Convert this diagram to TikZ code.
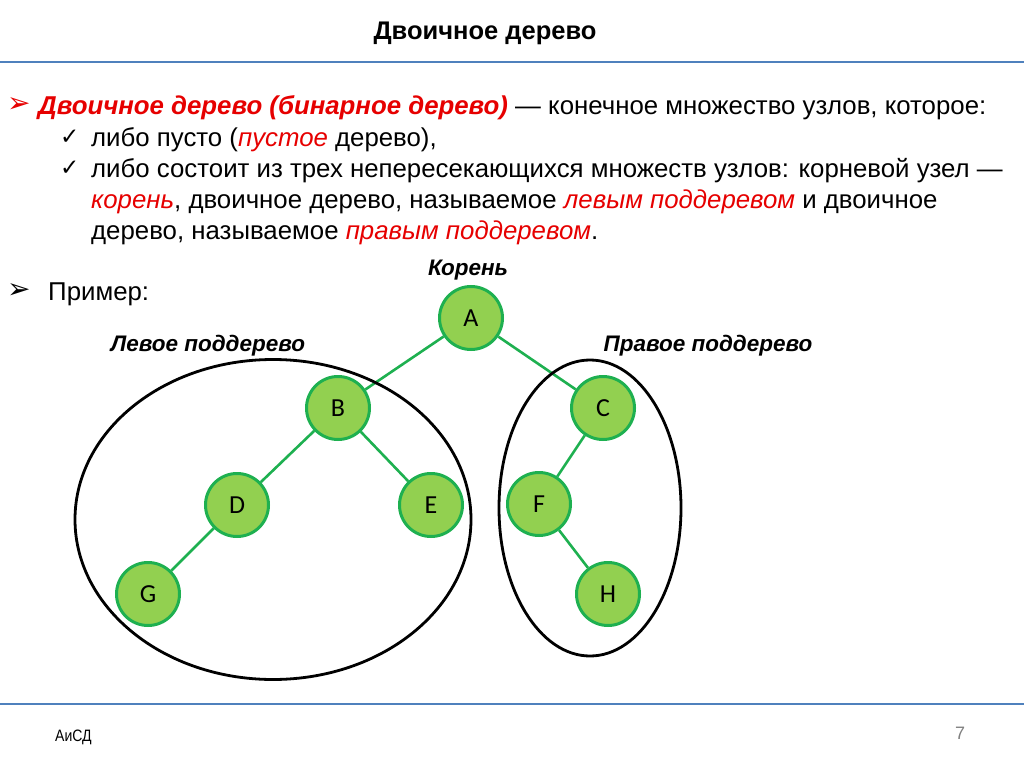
\documentclass[tikz,border=0pt]{standalone}
\usepackage{fontspec}
\setmainfont{Liberation Sans}
\newfontfamily\dejavu{DejaVu Sans}
\newfontfamily\carlito{Carlito}
\definecolor{nodefill}{RGB}{146,208,80}
\definecolor{nodeedge}{RGB}{30,176,80}
\definecolor{rulecol}{RGB}{79,129,189}
\definecolor{redtxt}{RGB}{230,0,0}
\pgfdeclarelayer{edgelayer}
\pgfdeclarelayer{elllayer}
\pgfsetlayers{edgelayer,elllayer,main}
\begin{document}
\begin{tikzpicture}[x=1pt,y=-1pt,
  tnode/.style={circle,draw=nodeedge,fill=nodefill,line width=3pt,minimum size=63pt,inner sep=0pt,font=\carlito\fontsize{26}{26}\selectfont},
  tedge/.style={draw=nodeedge,line width=2.6pt},
  subset/.style={draw=black,line width=2.8pt},
  body/.style={anchor=base west,inner sep=0pt,font=\fontsize{25.8}{27}\selectfont},
  lbl/.style={inner sep=0pt,font=\fontsize{22.5}{23}\selectfont\bfseries\itshape},
  arrowbul/.style={anchor=base west,inner sep=0pt,font=\dejavu\fontsize{28}{28}\selectfont},
  checkbul/.style={anchor=base west,inner sep=0pt,font=\dejavu\bfseries\fontsize{23}{23}\selectfont}]
\useasboundingbox (0,0) rectangle (1024,767);
% rules
\coordinate (hl) at (0,62); \coordinate (hr) at (1024,62);
\coordinate (fl) at (0,704); \coordinate (fr) at (1024,704);
\draw[rulecol,line width=2.2pt] (hl) -- (hr);
\draw[rulecol,line width=2.2pt] (fl) -- (fr);
% title
\node[inner sep=0pt,font=\fontsize{25.5}{26}\selectfont\bfseries] (title) at (485,33) {Двоичное дерево};
% bullets
\node[arrowbul,text=redtxt] (b1) at (7,113) {➢};
\node[checkbul] (c1) at (60,145) {✓};
\node[checkbul] (c2) at (60,176) {✓};
\node[arrowbul] (b2) at (7,298) {➢};
\node[body] (l1) at (38,115) {{\color{redtxt}\bfseries\itshape Двоичное дерево (бинарное дерево)} — конечное множество узлов, которое:};
\node[body] (l2) at (91,147) {либо пусто ({\color{redtxt}\itshape пустое} дерево),};
\node[body] (l3) at (91,178) {либо состоит из трех непересекающихся множеств узлов: корневой узел —};
\node[body] (l4) at (91,209) {{\color{redtxt}\itshape корень}, двоичное дерево, называемое {\color{redtxt}\itshape левым поддеревом} и двоичное};
\node[body] (l5) at (91,240) {дерево, называемое {\color{redtxt}\itshape правым поддеревом}.};
\node[body] (l6) at (48,300) {Пример:};
% labels
\node[lbl] (root) at (468,270) {Корень};
\node[lbl] (lsub) at (208,346) {Левое поддерево};
\node[lbl] (rsub) at (708,346) {Правое поддерево};
% tree nodes
\node[tnode] (A) at (471,318) {A};
\node[tnode] (B) at (338,408) {B};
\node[tnode] (C) at (603,408) {C};
\node[tnode] (D) at (237,505) {D};
\node[tnode] (E) at (431,505) {E};
\node[tnode] (F) at (539,504) {F};
\node[tnode] (G) at (148,594) {G};
\node[tnode] (H) at (608,594) {H};
\begin{pgfonlayer}{edgelayer}
\draw[tedge] (A) -- (B);
\draw[tedge] (A) -- (C);
\draw[tedge] (B) -- (D);
\draw[tedge] (B) -- (E);
\draw[tedge] (D) -- (G);
\draw[tedge] (C) -- (F);
\draw[tedge] (F) -- (H);
\end{pgfonlayer}
\begin{pgfonlayer}{elllayer}
\coordinate (lc) at (273,519.5);
\coordinate (rc) at (590,508);
\draw[subset] (lc) ellipse [x radius=198, y radius=160];
\draw[subset] (rc) ellipse [x radius=91, y radius=148];
\end{pgfonlayer}
% footer
\node[anchor=west,inner sep=0pt,font=\fontsize{16.5}{17}\selectfont] (foot) at (55,737) {\addfontfeature{FakeStretch=0.85}АиСД};
\node[inner sep=0pt,text=gray,font=\fontsize{18}{18}\selectfont] (pg) at (960,733) {7};
\end{tikzpicture}
\end{document}
